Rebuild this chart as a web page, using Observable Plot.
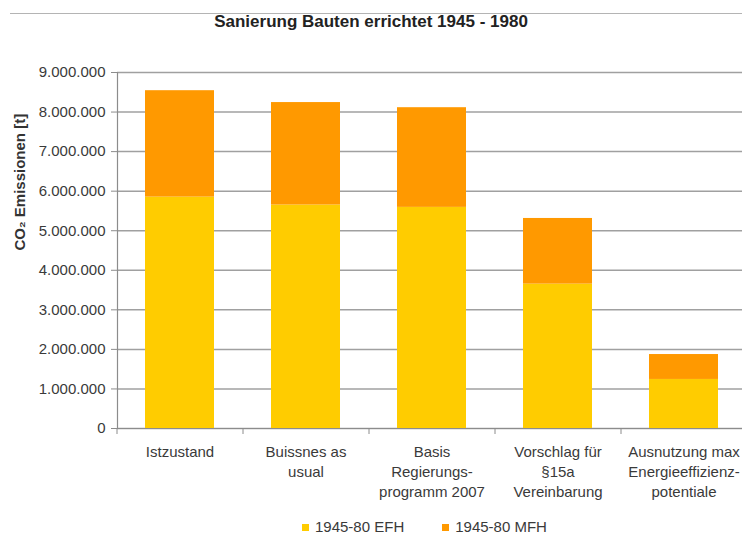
<!DOCTYPE html>
<html>
<head>
<meta charset="utf-8">
<script src="https://cdn.jsdelivr.net/npm/d3@7"></script>
<script src="https://cdn.jsdelivr.net/npm/@observablehq/plot@0.6"></script>
<style>
  html, body { margin: 0; padding: 0; background: #fff; }
  #wrap { position: relative; width: 742px; height: 536px; overflow: hidden; font-family: "Liberation Sans", Arial, sans-serif; }
  #topline { position: absolute; top: 13px; left: 10px; right: 0; height: 0; border-top: 1.5px solid #b4b4b4; }
  #title { position: absolute; top: 12px; left: 0; width: 742px; text-align: center; font-weight: bold; font-size: 17px; line-height: 20px; color: #222; }
  #chart { position: absolute; top: 40px; left: 0; }
  #legend { position: absolute; top: 519px; left: 302px; height: 16px; line-height: 16px; display: flex; align-items: center; font-size: 15px; color: #3a3a3a; }
  .item { display: flex; align-items: center; }
  .sw { width: 7px; height: 7px; margin-right: 6px; }
</style>
</head>
<body>
<div id="wrap">
  <div id="topline"></div>
  <div id="title">Sanierung Bauten errichtet 1945 - 1980</div>
  <div id="chart"></div>
  <div id="legend"></div>
</div>
<script>
const categories = [
  "Istzustand",
  "Buissnes as\nusual",
  "Basis\nRegierungs-\nprogramm 2007",
  "Vorschlag für\n§15a\nVereinbarung",
  "Ausnutzung max\nEnergieeffizienz-\npotentiale"
];
const seriesNames = ["1945-80 EFH", "1945-80 MFH"];
const efhValues = [5850000, 5650000, 5590000, 3650000, 1240000];
const mfhValues = [2690000, 2590000, 2520000, 1660000, 630000];
const seriesColors = ["#FFCC00", "#FF9900"];
const yTicks = [0, 1000000, 2000000, 3000000, 4000000, 5000000, 6000000, 7000000, 8000000, 9000000];
const yLabel = "CO₂ Emissionen [t]";

const rows = [];
categories.forEach((c, i) => {
  rows.push({cat: c, series: seriesNames[0], value: efhValues[i]});
  rows.push({cat: c, series: seriesNames[1], value: mfhValues[i]});
});

const de = d3.formatLocale({decimal: ",", thousands: ".", grouping: [3], currency: ["", " €"]});
const fmt = de.format(",d");

const chart = Plot.plot({
  width: 742,
  height: 480,
  marginLeft: 117,
  marginRight: 0,
  marginTop: 32,
  marginBottom: 92,
  style: {fontFamily: "'Liberation Sans', Arial, sans-serif", fontSize: "15px", color: "#3a3a3a", background: "transparent", overflow: "visible"},
  x: {type: "band", domain: categories, range: [117, 747], paddingInner: 0.45, paddingOuter: 0.225, label: null},
  y: {domain: [0, 9000000], label: null},
  color: {domain: seriesNames, range: seriesColors},
  marks: [
    Plot.gridY({ticks: yTicks, stroke: "#a0a0a0", strokeOpacity: 1, strokeWidth: 1.5}),
    Plot.barY(rows, {x: "cat", y: "value", fill: "series"}),
    Plot.ruleY([0], {stroke: "#8c8c8c", strokeWidth: 1.2}),
    Plot.frame({anchor: "left", stroke: "#8c8c8c", strokeWidth: 1.2}),
    Plot.axisY({ticks: yTicks, tickSize: 6, tickPadding: 6, tickFormat: fmt, stroke: "#8c8c8c", label: null, fontSize: 15}),
    Plot.axisX({tickSize: 0, tickPadding: 14, lineHeight: 1.35, label: null, fontSize: 15}),
    Plot.axisX({tickSize: 6, tickFormat: () => "", dx: -63, stroke: "#8c8c8c", label: null}),
    Plot.text([yLabel], {frameAnchor: "left", rotate: -90, dx: -97, fontWeight: "bold", fontSize: 15, fill: "#333"})
  ]
});
document.getElementById("chart").appendChild(chart);

const legend = d3.select("#legend");
seriesNames.forEach((s, i) => {
  const it = legend.append("div").attr("class", "item").style("margin-right", i === 0 ? "38px" : "0");
  it.append("div").attr("class", "sw").style("background", seriesColors[i]);
  it.append("span").text(s);
});
</script>
</body>
</html>
